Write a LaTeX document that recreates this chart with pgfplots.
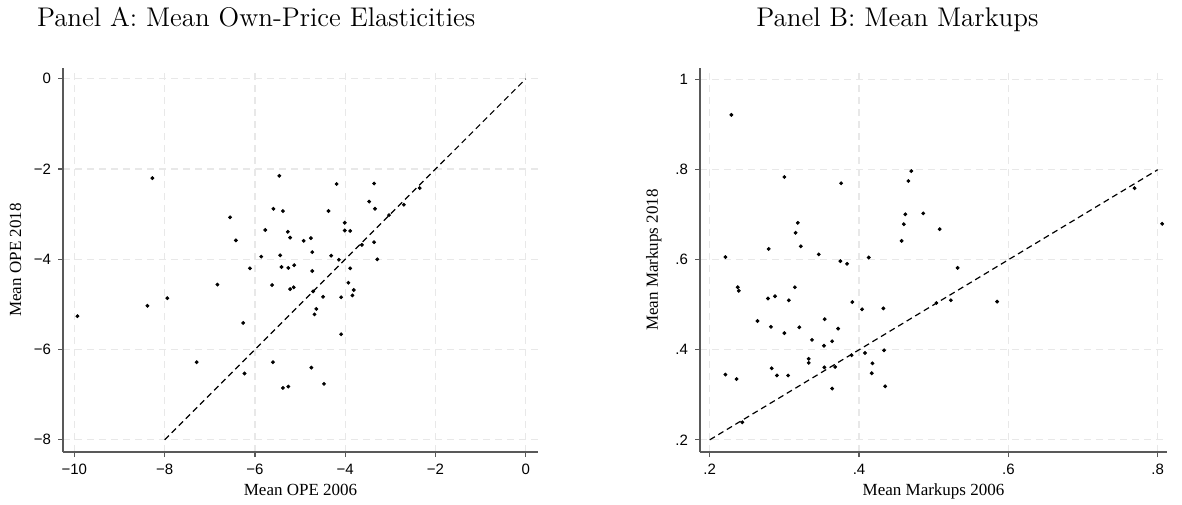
\documentclass[border=0pt]{standalone}
\usepackage{fontspec}
\usepackage{pgfplots}
\usepackage{pgfplotstable}
\pgfplotsset{compat=1.18}
\newfontfamily\lsans{Liberation Sans}
\newfontfamily\lserif{Liberation Serif}

\pgfplotstableread{
x y
-8.27 -2.20
-5.46 -2.15
-5.59 -2.88
-5.38 -2.93
-6.55 -3.07
-5.77 -3.35
-5.27 -3.39
-5.22 -3.52
-6.42 -3.58
-5.86 -3.94
-5.44 -3.91
-6.11 -4.20
-5.41 -4.17
-5.26 -4.19
-5.13 -4.13
-6.83 -4.56
-5.62 -4.57
-5.22 -4.66
-5.14 -4.62
-7.94 -4.86
-8.38 -5.03
-4.19 -2.33
-3.36 -2.32
-3.47 -2.72
-3.34 -2.88
-4.37 -2.93
-3.03 -3.02
-2.70 -2.79
-2.35 -2.42
-4.01 -3.19
-4.01 -3.36
-3.89 -3.37
-4.92 -3.59
-4.76 -3.53
-4.73 -3.84
-3.63 -3.68
-3.36 -3.62
-4.31 -3.92
-4.14 -4.01
-3.29 -4.00
-4.73 -4.26
-3.89 -4.20
-3.93 -4.52
-4.71 -4.71
-3.81 -4.68
-3.84 -4.80
-4.49 -4.83
-4.09 -4.84
-4.64 -5.10
-4.68 -5.22
-4.09 -5.66
-4.75 -6.40
-4.47 -6.76
-5.38 -6.85
-5.26 -6.82
-9.93 -5.26
-6.26 -5.41
-7.29 -6.28
-6.23 -6.53
-5.60 -6.28
}\opedata

\pgfplotstableread{
x y
0.229 0.922
0.470 0.797
0.466 0.775
0.300 0.784
0.376 0.770
0.318 0.682
0.315 0.660
0.322 0.630
0.279 0.624
0.346 0.612
0.221 0.606
0.413 0.605
0.462 0.701
0.486 0.703
0.460 0.679
0.457 0.642
0.508 0.668
0.769 0.759
0.806 0.680
0.375 0.597
0.384 0.591
0.2375 0.539
0.239 0.531
0.314 0.539
0.278 0.514
0.2875 0.519
0.306 0.510
0.391 0.506
0.404 0.490
0.4326 0.492
0.264 0.464
0.354 0.468
0.282 0.451
0.320 0.450
0.372 0.447
0.300 0.437
0.337 0.422
0.364 0.419
0.353 0.409
0.408 0.393
0.390 0.388
0.4335 0.399
0.3326 0.380
0.3326 0.371
0.418 0.370
0.417 0.348
0.283 0.359
0.3535 0.361
0.368 0.362
0.221 0.345
0.236 0.335
0.290 0.343
0.305 0.343
0.364 0.314
0.435 0.319
0.2437 0.239
0.532 0.582
0.5036 0.504
0.523 0.510
0.585 0.507
}\mkdata

\pgfplotsset{
  statastyle/.style={
    scale only axis,
    height=192pt,
    axis x line=bottom,
    axis y line=left,
    x axis line style={-},
    y axis line style={-},
    axis line style={black!65, line width=0.7pt},
    tick align=outside,
    major tick length=2.5pt,
    tick style={black!65, line width=0.6pt},
    grid=major,
    major grid style={dash pattern=on 3.5pt off 2.5pt, black!9, line width=0.6pt},
    ticklabel style={font=\lsans\fontsize{7.5}{9}\selectfont},
    label style={font=\lserif\fontsize{8.5}{10}\selectfont},
    xlabel style={at={(axis description cs:0.5,-0.112)}, anchor=base},
    clip=false,
  }
}

\begin{document}
\begin{tikzpicture}
\path[use as bounding box] (0,0) rectangle (591pt,252pt);

\node[anchor=base west, font=\fontsize{13.5}{16}\selectfont, inner sep=0pt] at (18.3pt,238.5pt) {Panel A: Mean Own-Price Elasticities};
\node[anchor=base west, font=\fontsize{13.5}{16}\selectfont, inner sep=0pt] at (378pt,238.5pt) {Panel B: Mean Markups};

\begin{axis}[statastyle,
  at={(31.5pt,26pt)}, anchor=south west,
  width=237.5pt,
  xmin=-10.25, xmax=0.27, ymin=-8.27, ymax=0.24,
  xtick={-10,-8,-6,-4,-2,0},
  xticklabels={−10,−8,−6,−4,−2,0},
  ytick={-8,-6,-4,-2,0},
  yticklabels={−8,−6,−4,−2,0},
  xlabel={Mean OPE 2006},
  ylabel={Mean OPE 2018},
  ylabel style={at={(axis description cs:-0.0884,0.5)}, anchor=base},
]
\addplot[black, line width=0.6pt, dash pattern=on 3pt off 2pt] coordinates {(-8,-8) (0,0)};
\addplot[only marks, mark=*, mark size=0.75pt, black] table[x=x,y=y] {\opedata};
\end{axis}

\begin{axis}[statastyle,
  at={(350pt,26pt)}, anchor=south west,
  width=233.5pt,
  xmin=0.187, xmax=0.8125, ymin=0.173, ymax=1.026,
  xtick={0.2,0.4,0.6,0.8},
  xticklabels={.2,.4,.6,.8},
  ytick={0.2,0.4,0.6,0.8,1},
  yticklabels={.2,.4,.6,.8,1},
  xlabel={Mean Markups 2006},
  ylabel={Mean Markups 2018},
  ylabel style={at={(axis description cs:-0.09,0.5)}, anchor=base},
]
\addplot[black, line width=0.6pt, dash pattern=on 3pt off 2pt] coordinates {(0.2,0.2) (0.8,0.8)};
\addplot[only marks, mark=*, mark size=0.75pt, black] table[x=x,y=y] {\mkdata};
\end{axis}
\end{tikzpicture}
\end{document}
